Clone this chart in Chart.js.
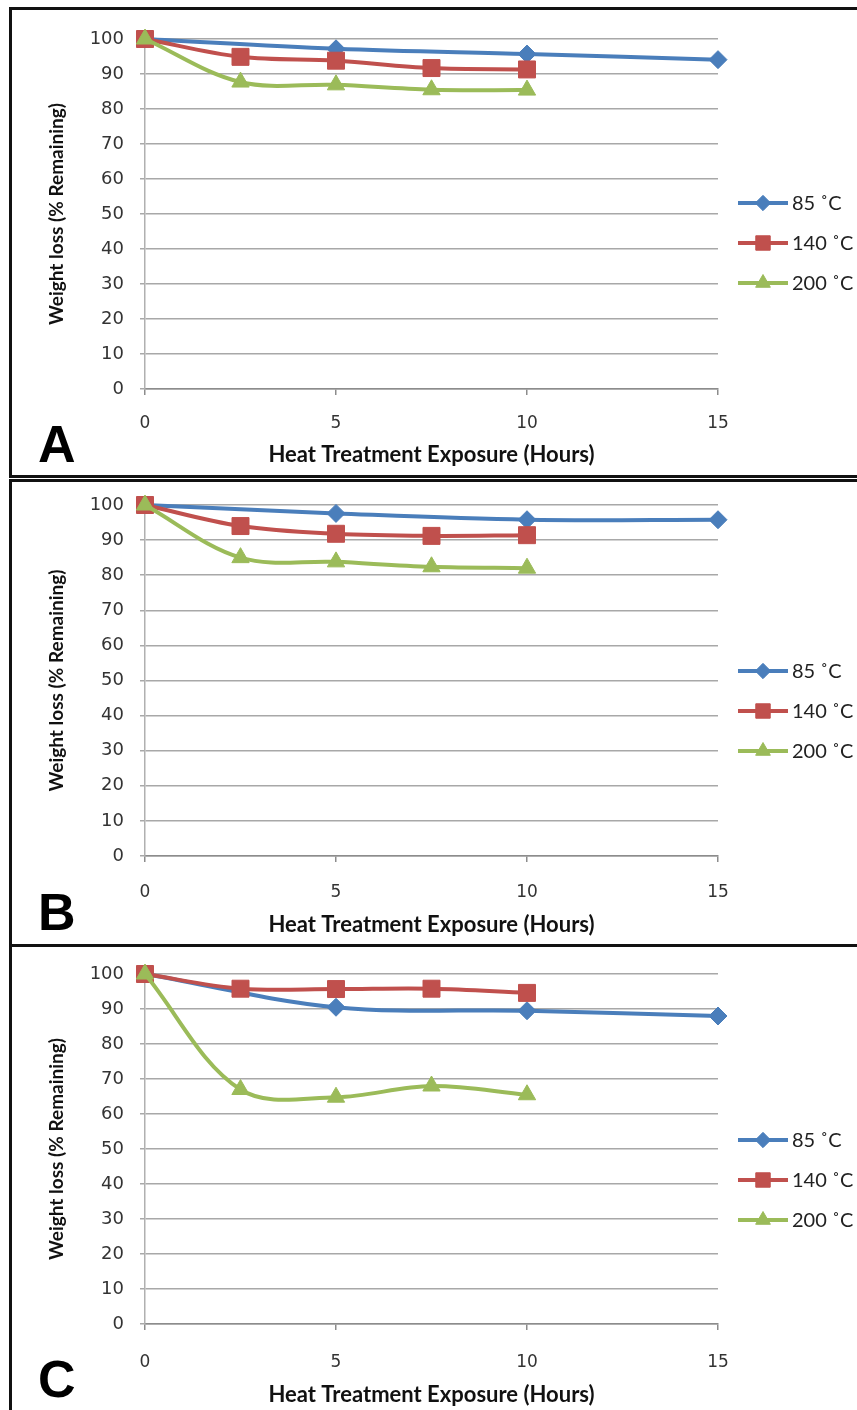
<!DOCTYPE html>
<html>
<head>
<meta charset="utf-8">
<script src="https://cdn.jsdelivr.net/npm/chart.js@4/dist/chart.umd.min.js"></script>
<style>
    body { margin: 0; background: #fff; width: 857px; height: 1410px; overflow: hidden; position: relative; }
    .painel { position: absolute; border: 3px solid #111; width: 900px; box-sizing: border-box; }
    .letra { position: absolute; font: bold 52px "Liberation Sans", Arial, sans-serif; line-height: 52px; color: #000; }
    canvas { position: absolute; left: 0; }
</style>
</head>
<body>
<div class="painel" style="left:9px; top:7px; height:471px"></div>
<div class="painel" style="left:9px; top:479px; height:468px"></div>
<div class="painel" style="left:9px; top:944px; height:500px"></div>

<canvas id="graficoA" style="top:0px"></canvas>
<canvas id="graficoB" style="top:478px"></canvas>
<canvas id="graficoC" style="top:945px"></canvas>

<div class="letra" style="left:38px; top:418px">A</div>
<div class="letra" style="left:38px; top:886px">B</div>
<div class="letra" style="left:38px; top:1353px">C</div>

<script>
// Tempo de exposição (horas)
const horas85 = [0, 5, 10, 15]
const horasOutras = [0, 2.5, 5, 7.5, 10]

const legendas = ['85 ˚C', '140 ˚C', '200 ˚C']
const ticksY = [0, 10, 20, 30, 40, 50, 60, 70, 80, 90, 100]
const ticksX = [0, 5, 10, 15]

// Painel A
const a85 = [100, 97.2, 95.7, 94.1]
const a140 = [100, 94.9, 93.8, 91.7, 91.3]
const a200 = [100, 87.7, 86.9, 85.5, 85.4]

// Painel B
const b85 = [100, 97.6, 95.8, 95.8]
const b140 = [100, 94, 91.8, 91.2, 91.4]
const b200 = [100, 85, 83.8, 82.4, 82]

// Painel C
const c85 = [100, 90.5, 89.5, 88]
const c140 = [100, 95.8, 95.7, 95.8, 94.6]
const c200 = [100, 67, 64.8, 68, 65.5]

const cores = ['#4a7ebb', '#c0504d', '#9bbb59']
const marcadores = ['rectRot', 'rect', 'triangle']
const raios = [9, 12, 10]

function pontos(xs, ys) {
    return xs.map((x, i) => ({ x: x, y: ys[i] }))
}

// Legenda desenhada à direita, linha com marcador
const legendaLateral = {
    id: 'legendaLateral',
    afterDraw(chart, args, opts) {
        const c = chart.ctx
        chart.data.datasets.forEach((ds, i) => {
            const y = opts.topo + i * 40
            c.save()
            c.strokeStyle = ds.borderColor
            c.lineWidth = 4
            c.beginPath()
            c.moveTo(738, y)
            c.lineTo(788, y)
            c.stroke()
            c.fillStyle = ds.pointBackgroundColor
            c.strokeStyle = ds.pointBackgroundColor
            c.lineWidth = 1
            Chart.helpers.drawPoint(c, { pointStyle: ds.pointStyle, radius: ds.pointRadius * 0.85, borderWidth: 1 }, 763, y)
            c.fillStyle = '#222'
            c.font = '20px Lato'
            c.textBaseline = 'middle'
            c.fillText(ds.label, 792, y + 1)
            c.restore()
        })
    }
}

function criarGrafico(id, altura, topoArea, baseArea, topoLegenda, folgaTicks, series) {
    const canvas = document.getElementById(id)
    canvas.width = 857
    canvas.height = altura
    canvas.style.width = '857px'
    canvas.style.height = altura + 'px'

    const datasets = series.map((s, i) => ({
        label: legendas[i],
        data: s,
        borderColor: cores[i],
        backgroundColor: cores[i],
        pointBackgroundColor: cores[i],
        pointBorderColor: cores[i],
        pointStyle: marcadores[i],
        pointRadius: raios[i],
        pointBorderWidth: 1,
        borderWidth: 4,
        tension: 0.35,
        clip: false,
        order: 3 - i
    }))

    return new Chart(canvas.getContext('2d'), {
        type: 'line',
        data: { datasets: datasets },
        options: {
            responsive: false,
            animation: false,
            events: [],
            layout: {
                padding: { left: 42, right: 139, top: topoArea, bottom: 6 }
            },
            plugins: {
                legend: { display: false },
                tooltip: { enabled: false },
                legendaLateral: { topo: topoLegenda }
            },
            scales: {
                x: {
                    type: 'linear',
                    min: 0,
                    max: 15,
                    afterBuildTicks: s => { s.ticks = ticksX.map(v => ({ value: v })) },
                    afterFit: s => { s.height = altura - 6 - baseArea },
                    grid: { drawOnChartArea: false, drawTicks: true, tickLength: 6, color: '#8c8c8c', lineWidth: 1.5 },
                    border: { color: '#8c8c8c', width: 1.5 },
                    ticks: { color: '#333', font: { family: 'DejaVu Sans', size: 17 }, padding: folgaTicks },
                    title: {
                        display: true,
                        text: 'Heat Treatment Exposure (Hours)',
                        color: '#111',
                        font: { family: 'Lato', weight: 'bold', size: 22 },
                        padding: { top: 4, bottom: 3 }
                    }
                },
                y: {
                    min: 0,
                    max: 100,
                    afterBuildTicks: s => { s.ticks = ticksY.map(v => ({ value: v })) },
                    afterFit: s => { s.width = 103 },
                    grid: { color: '#a8a8a8', lineWidth: 1.5, tickLength: 5 },
                    border: { color: '#b0b0b0', width: 1.5 },
                    ticks: { color: '#333', font: { family: 'DejaVu Sans', size: 18 }, padding: 16 },
                    title: {
                        display: true,
                        text: 'Weight loss (% Remaining)',
                        color: '#111',
                        font: { family: 'Lato', weight: 'bold', size: 19 },
                        padding: { top: 3, bottom: 4 }
                    }
                }
            }
        },
        plugins: [legendaLateral]
    })
}

criarGrafico('graficoA', 477, 39, 389, 203, 18,
    [pontos(horas85, a85), pontos(horasOutras, a140), pontos(horasOutras, a200)])
criarGrafico('graficoB', 469, 27, 378, 193, 20,
    [pontos(horas85, b85), pontos(horasOutras, b140), pontos(horasOutras, b200)])
criarGrafico('graficoC', 472, 29, 379, 195, 22,
    [pontos(horas85, c85), pontos(horasOutras, c140), pontos(horasOutras, c200)])
</script>
</body>
</html>
